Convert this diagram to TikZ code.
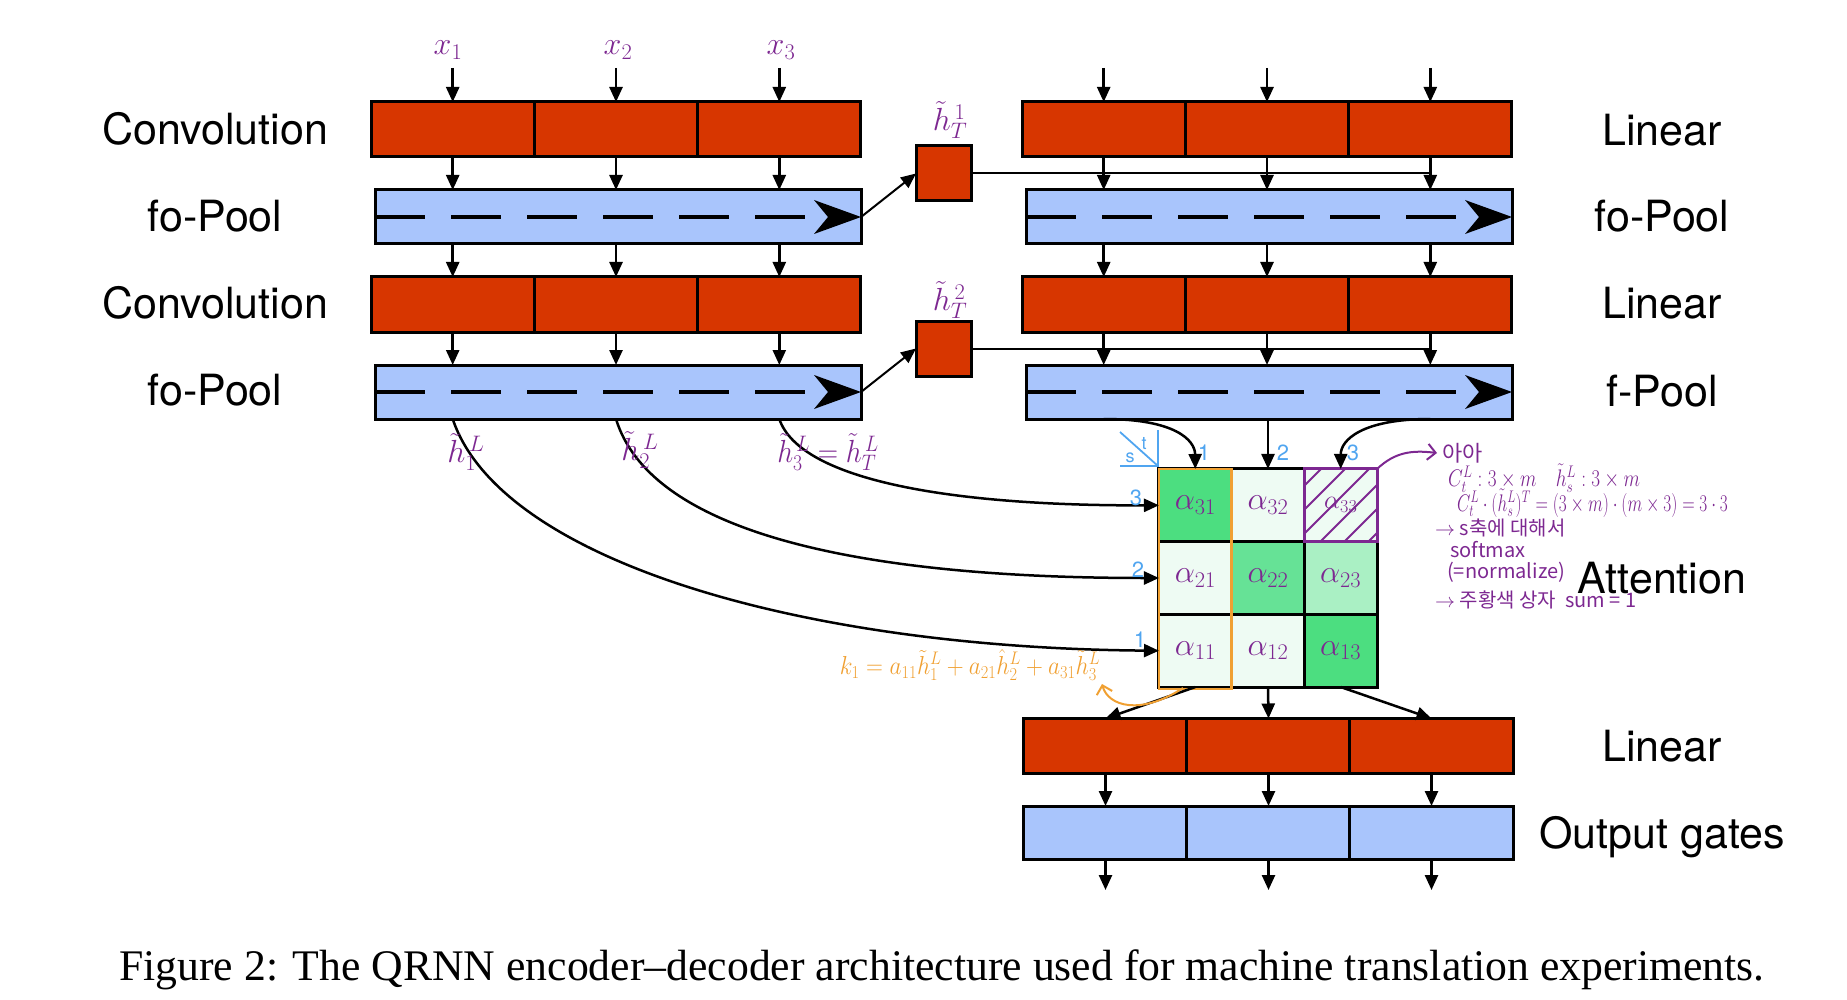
\RequirePackage{fix-cm}
\documentclass[tikz,border=0pt]{standalone}
\usepackage{amsmath}
\usepackage{fontspec}
\setmainfont{Liberation Serif}
\newfontfamily\helv{TeX Gyre Heros}
\newfontfamily\kr{Noto Sans CJK KR}
\usetikzlibrary{arrows.meta,calc}
\definecolor{convred}{RGB}{215,54,0}
\definecolor{poolblue}{RGB}{169,197,252}
\definecolor{hw}{RGB}{125,40,145}
\definecolor{annblue}{RGB}{80,165,240}
\definecolor{annorange}{RGB}{240,160,50}
\definecolor{gdark}{RGB}{76,222,128}
\definecolor{gmid}{RGB}{102,226,150}
\definecolor{glight}{RGB}{170,240,196}
\definecolor{gpale}{RGB}{238,251,243}
\begin{document}
\begin{tikzpicture}[x=1pt,y=-1pt,
  redcell/.style={draw=black, line width=3pt, fill=convred, minimum width=163.33pt, minimum height=55pt, inner sep=0pt, outer sep=0pt},
  bluecell/.style={redcell, fill=poolblue},
  pool/.style={draw=black, line width=3pt, fill=poolblue, minimum width=486pt, minimum height=54pt, inner sep=0pt, outer sep=0pt},
  hbox/.style={redcell, minimum width=55pt, minimum height=55pt},
  arr/.style={line width=2.5pt, -{Triangle[length=15pt,width=13pt]}},
  thinarr/.style={line width=2pt, -{Triangle[length=15pt,width=13pt]}},
  dashline/.style={line width=3.3pt, dash pattern=on 50pt off 26pt},
  lbl/.style={font=\helv\fontsize{43}{50}\selectfont, anchor=base, inner sep=0pt},
  hand/.style={text=hw, font=\fontsize{32}{34}\selectfont, inner sep=0pt},
  cell/.style={draw=black, line width=3pt, minimum width=72.67pt, minimum height=72.67pt, inner sep=0pt, outer sep=0pt, text=hw, font=\fontsize{32}{34}\selectfont},
  ann/.style={text=hw, font=\kr\fontsize{20}{24}\selectfont, anchor=west, inner sep=0pt},
  num/.style={text=annblue, font=\helv\fontsize{22}{24}\selectfont, inner sep=0pt}
]
\useasboundingbox (0,0) rectangle (1847,1000);

% ---------------- left encoder ----------------
\node[redcell] (c1a) at (452.7,129.5) {};
\node[redcell] (c1b) at (616,129.5) {};
\node[redcell] (c1c) at (779.3,129.5) {};
\node[pool] (p1) at (618,217) {};
\node[redcell] (c2a) at (452.7,304.5) {};
\node[redcell] (c2b) at (616,304.5) {};
\node[redcell] (c2c) at (779.3,304.5) {};
\node[pool] (p2) at (618,392) {};

% ---------------- right decoder ----------------
\node[redcell] (l1a) at (1103.7,129.5) {};
\node[redcell] (l1b) at (1267,129.5) {};
\node[redcell] (l1c) at (1430.3,129.5) {};
\node[pool] (q1) at (1269,217) {};
\node[redcell] (l2a) at (1103.7,304.5) {};
\node[redcell] (l2b) at (1267,304.5) {};
\node[redcell] (l2c) at (1430.3,304.5) {};
\node[pool] (q2) at (1269,392) {};

\node[hbox] (hT1) at (943.5,173.5) {};
\node[hbox] (hT2) at (943.5,348.5) {};

% pooling dashes and heads
\foreach \p in {p1,p2,q1,q2}{
  \draw[dashline] (\p.west) -- ++(431,0);
  \fill (\p.east) -- ++(-47,-17) -- ++(14,17) -- ++(-14,17) -- cycle;
}

% input arrows
\coordinate (x1) at (452.7,68);
\coordinate (x2) at (616,68);
\coordinate (x3) at (779.3,68);
\coordinate (y1) at (1103.7,68);
\coordinate (y2) at (1267,68);
\coordinate (y3) at (1430.3,68);
\draw[arr] (x1) -- (c1a.north);
\draw[arr] (x2) -- (c1b.north);
\draw[arr] (x3) -- (c1c.north);
\draw[arr] (y1) -- (l1a.north);
\draw[arr] (y2) -- (l1b.north);
\draw[arr] (y3) -- (l1c.north);

\foreach \a/\b/\c/\d in {c1a/c2a/l1a/l2a, c1b/c2b/l1b/l2b, c1c/c2c/l1c/l2c}{
  \draw[arr] (\a.south) -- (\a.south |- p1.north);
  \draw[arr] (p1.south -| \a) -- (\b.north);
  \draw[arr] (\b.south) -- (\b.south |- p2.north);
  \draw[arr] (\c.south) -- (\c.south |- q1.north);
  \draw[arr] (q1.south -| \c) -- (\d.north);
  \draw[arr] (\d.south) -- (\d.south |- q2.north);
}

% hidden state transfer
\draw[thinarr] (p1.east) -- (hT1.west);
\draw[thinarr] (p2.east) -- (hT2.west);
\draw[line width=2pt] (hT1.east) -- (hT1.east -| l1c);
\draw[line width=2pt] (hT2.east) -- (hT2.east -| l2c);

% ---------------- attention grid ----------------
\node[cell, fill=gdark]  (a31) at (1195.3,505.3) {$\alpha_{31}$};
\node[cell, fill=gpale]  (a32) at (1268,505.3) {$\alpha_{32}$};
\node[cell, fill=gpale]  (a33) at (1340.7,505.3) {};
\node[cell, fill=gpale]  (a21) at (1195.3,578) {$\alpha_{21}$};
\node[cell, fill=gmid]   (a22) at (1268,578) {$\alpha_{22}$};
\node[cell, fill=glight] (a23) at (1340.7,578) {$\alpha_{23}$};
\node[cell, fill=gpale]  (a11) at (1195.3,650.7) {$\alpha_{11}$};
\node[cell, fill=gpale]  (a12) at (1268,650.7) {$\alpha_{12}$};
\node[cell, fill=gdark]  (a13) at (1340.7,650.7) {$\alpha_{13}$};
\begin{scope}
  \clip (a33.north west) rectangle (a33.south east);
  \foreach \i in {0,...,9}
    \draw[hw, line width=2pt] ($(a33.south west)+(\i*24-80,0)$) -- ++(110,-110);
\end{scope}
\node[hand, font=\fontsize{26}{28}\selectfont] (a33t) at (a33) {$\alpha_{33}$};
\draw[hw, line width=3pt] (a33.north west) rectangle (a33.south east);
\draw[annorange, line width=2.5pt] (a31.north west) rectangle ($(a11.south east)+(0,2)$);

% inputs to attention
\draw[arr] (q2.south -| l2a) .. controls (1175,419) and (1195,440) .. (a31.north);
\draw[arr] (q2.south -| a32) -- (a32.north);
\draw[arr] (q2.south -| l2c) .. controls (1362,419) and (1340.7,440) .. (a33.north);

\draw[arr] (p2.south -| c2a) .. controls (500,560) and (800,648) .. (a11.west);
\draw[arr] (p2.south -| c2b) .. controls (650,530) and (850,578) .. (a21.west);
\draw[arr] (p2.south -| c2c) .. controls (800,480) and (950,506) .. (a31.west);

% ---------------- bottom decoder ----------------
\node[redcell] (l3a) at (1105.5,746) {};
\node[redcell] (l3b) at (1268.5,746) {};
\node[redcell] (l3c) at (1431.5,746) {};
\node[bluecell, minimum height=53pt] (o1) at (1105.5,832.5) {};
\node[bluecell, minimum height=53pt] (o2) at (1268.5,832.5) {};
\node[bluecell, minimum height=53pt] (o3) at (1431.5,832.5) {};
\draw[arr] (a11.south) -- (l3a.north);
\draw[arr] (a12.south) -- (l3b.north);
\draw[arr] (a13.south) -- (l3c.north);
\coordinate (z1) at (1105.5,890);
\coordinate (z2) at (1268.5,890);
\coordinate (z3) at (1431.5,890);
\foreach \u/\v/\w in {l3a/o1/z1, l3b/o2/z2, l3c/o3/z3}{
  \draw[arr] (\u.south) -- (\v.north);
  \draw[arr] (\v.south) -- (\w);
}

% ---------------- printed labels ----------------
\node[lbl] (tconv1) at (215,145) {Convolution};
\node[lbl] (tpool1) at (215,232) {fo-Pool};
\node[lbl] (tconv2) at (215,319) {Convolution};
\node[lbl] (tpool2) at (215,405) {fo-Pool};
\node[lbl] (tlin1) at (1662,146) {Linear};
\node[lbl] (tqool1) at (1662,232) {fo-Pool};
\node[lbl] (tlin2) at (1662,319) {Linear};
\node[lbl] (tqool2) at (1662,406) {f-Pool};
\node[lbl] (tatt) at (1662,593) {Attention};
\node[lbl] (tlin3) at (1662,761) {Linear};
\node[lbl] (tout) at (1662,848) {Output gates};
\node[anchor=base, inner sep=0pt, font=\fontsize{43.7}{50}\selectfont] (cap) at (942,980)
  {Figure 2: The QRNN encoder--decoder architecture used for machine translation experiments.};

% ---------------- handwritten annotations ----------------
\node[hand] (hx1) at (448,50) {$x_{1}$};
\node[hand] (hx2) at (618,50) {$x_{2}$};
\node[hand] (hx3) at (781,50) {$x_{3}$};
\node[hand] (hht1) at (950,120) {$\tilde{h}^{\,1}_{T}$};
\node[hand] (hht2) at (950,300) {$\tilde{h}^{\,2}_{T}$};
\node[hand] (hh1) at (466,452) {$\tilde{h}^{\,L}_{1}$};
\node[hand] (hh2) at (640,450) {$\tilde{h}^{\,L}_{2}$};
\node[hand] (hh3) at (828,452) {\scalebox{0.88}[1]{$\tilde{h}^{\,L}_{3}=\tilde{h}^{\,L}_{T}$}};

% s \ t marker and indices
\draw[annblue, line width=1.8pt] (1120,432) -- (1158,466);
\draw[annblue, line width=1.8pt] (1158,430) -- (1158,466) -- (1120,466);
\node[num, font=\helv\fontsize{18}{20}\selectfont] (tt) at (1144,444) {t};
\node[num, font=\helv\fontsize{18}{20}\selectfont] (ts) at (1130,458) {s};
\node[num] (n1) at (1204,453) {1};
\node[num] (n2) at (1283,453) {2};
\node[num] (n3) at (1353,453) {3};
\node[num] (m3) at (1136,498) {3};
\node[num] (m2) at (1138,570) {2};
\node[num] (m1) at (1140,640) {1};

% orange weighted sum
\node[text=annorange, font=\fontsize{26}{28}\selectfont, inner sep=0pt] (ksum) at (970,665)
  {\scalebox{0.9}[1]{$k_1 = a_{11}\tilde{h}_1^{L} + a_{21}\hat{h}_2^{L} + a_{31}\tilde{h}_3^{L}$}};
\draw[annorange, line width=2pt, -{Straight Barb[length=8pt]}] (1183,688) .. controls (1140,716) and (1108,706) .. (1102,684);

% purple notes
\coordinate (noteend) at (1437,453);
\draw[hw, line width=2pt, -{Straight Barb[length=8pt]}] (a33.north east) .. controls (1395,452) and (1412,450) .. (noteend);
\node[ann, font=\kr\fontsize{22}{24}\selectfont] (nt1) at (1442,453) {아아};
\node[ann, font=\fontsize{24}{26}\selectfont] (nt2) at (1448,478) {\scalebox{0.8}[1]{$C_t^{L} : 3\times m \quad \tilde{h}_s^{L} : 3\times m$}};
\node[ann, font=\fontsize{24}{26}\selectfont] (nt3) at (1457,503) {\scalebox{0.72}[1]{$C_t^{L}\cdot(\tilde{h}_s^{L})^{T} = (3\times m)\cdot(m\times 3) = 3\cdot 3$}};
\node[ann] (nt4) at (1435,528) {$\rightarrow$ s축에 대해서};
\node[ann] (nt5) at (1450,550) {softmax};
\node[ann] (nt6) at (1447,572) {(=normalize)};
\node[ann] (nt7) at (1435,600) {$\rightarrow$ 주황색 상자 \ sum = 1};
\end{tikzpicture}
\end{document}
